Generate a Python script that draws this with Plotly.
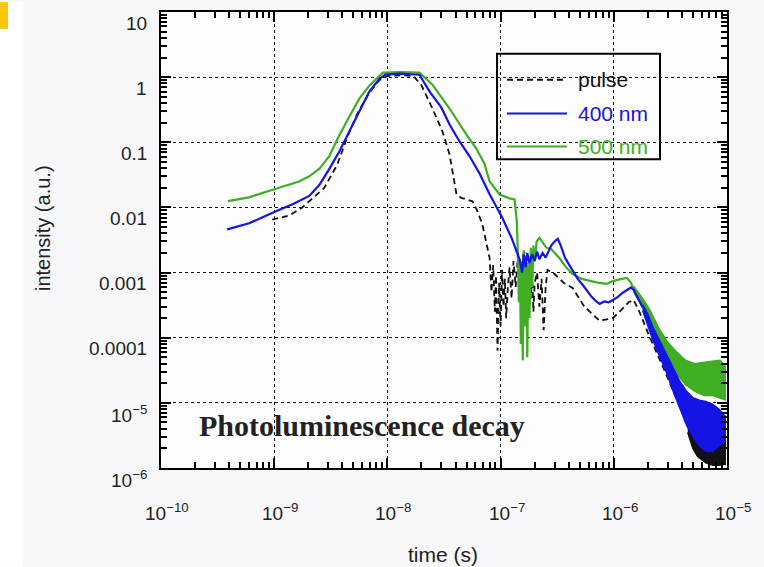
import math
import plotly.graph_objects as go

# ---- measured decay curves: time (s) and intensity (a.u.) ----
pulse_t = [9.6e-10, 1.36e-9, 1.77e-9, 2.77e-9, 3.6e-9, 4.5e-9, 5.5e-9, 6.9e-9, 8.5e-9,
           1.0e-8, 1.3e-8, 1.6e-8, 1.73e-8, 2.0e-8, 2.5e-8, 3.07e-8, 3.54e-8, 4.08e-8,
           4.5e-8, 5.65e-8, 6.2e-8, 6.9e-8, 8.0e-8, 8.3e-8, 8.6e-8, 8.9e-8, 9.1e-8,
           9.4e-8, 9.7e-8, 1.0e-7, 1.03e-7, 1.06e-7, 1.09e-7, 1.12e-7, 1.16e-7, 1.2e-7,
           1.25e-7, 1.3e-7, 1.36e-7, 1.42e-7, 1.5e-7, 1.6e-7, 1.7e-7, 1.78e-7, 1.85e-7,
           1.9e-7, 1.95e-7, 2.0e-7, 2.1e-7, 2.2e-7, 2.3e-7, 2.4e-7, 2.5e-7, 2.6e-7,
           3.0e-7, 3.6e-7, 4.33e-7, 5.5e-7, 7.5e-7, 9.8e-7, 1.15e-6, 1.35e-6, 1.5e-6,
           1.7e-6, 2.0e-6, 2.5e-6, 3.0e-6, 3.8e-6, 4.5e-6]
pulse_i = [6.5e-3, 7.5e-3, 1.0e-2, 2.0e-2, 4.5e-2, 0.13, 0.29, 0.57, 0.9,
           1.04, 1.07, 1.05, 1.0, 0.75, 0.33, 0.146, 0.065, 0.0158,
           0.014, 0.0124, 9.0e-3, 5.5e-3, 1.67e-3, 5.0e-4, 1.3e-3, 2.5e-4, 9.0e-4,
           6.3e-5, 7.0e-4, 1.5e-4, 1.1e-3, 3.0e-4, 8.0e-4, 2.0e-4, 6.0e-4, 1.2e-3,
           4.0e-4, 1.5e-3, 6.0e-4, 1.8e-3, 9.0e-4, 2.0e-3, 2.1e-3, 1.2e-3, 4.0e-4,
           1.0e-3, 2.5e-4, 7.0e-4, 1.0e-3, 3.0e-4, 8.0e-4, 1.3e-4, 6.0e-4, 1.1e-3,
           9.5e-4, 7.0e-4, 5.8e-4, 3.0e-4, 1.82e-4, 2.0e-4, 2.6e-4, 3.5e-4, 3.8e-4,
           2.4e-4, 1.2e-4, 5.0e-5, 2.4e-5, 9.0e-6, 4.5e-6]
# noisy tail of the pulse: lower / upper envelope
pulse_tail_t = [4.5e-6, 5.0e-6, 5.5e-6, 6.5e-6, 7.5e-6, 8.5e-6, 9.8e-6]
pulse_tail_lo = [3.5e-6, 2.0e-6, 1.5e-6, 1.2e-6, 1.1e-6, 1.1e-6, 1.15e-6]
pulse_tail_hi = [5.5e-6, 4.5e-6, 4.0e-6, 3.2e-6, 3.0e-6, 3.0e-6, 2.6e-6]

nm400_t = [3.84e-10, 6.0e-10, 1.0e-9, 1.5e-9, 2.04e-9, 2.5e-9, 3.07e-9, 3.76e-9, 5.1e-9,
           6.93e-9, 8.5e-9, 9.6e-9, 1.28e-8, 1.92e-8, 2.36e-8, 3.0e-8, 3.54e-8, 4.34e-8,
           5.32e-8, 6.52e-8, 8.0e-8, 1.04e-7, 1.25e-7, 1.47e-7, 1.55e-7, 1.6e-7, 1.66e-7,
           1.72e-7, 1.8e-7, 1.9e-7, 2.0e-7, 2.1e-7, 2.2e-7, 2.35e-7, 2.5e-7, 2.65e-7,
           2.8e-7, 3.0e-7, 3.2e-7, 3.4e-7, 3.7e-7, 4.0e-7, 4.33e-7, 4.8e-7, 5.3e-7,
           5.8e-7, 6.4e-7, 7.0e-7, 7.5e-7, 8.2e-7, 9.0e-7, 9.8e-7, 1.08e-6, 1.2e-6,
           1.3e-6, 1.42e-6, 1.5e-6, 1.65e-6, 1.8e-6]
nm400_i = [4.6e-3, 5.7e-3, 8.5e-3, 1.15e-2, 1.5e-2, 2.2e-2, 3.9e-2, 7.2e-2, 0.208,
           0.60, 0.946, 1.09, 1.13, 1.09, 0.60, 0.34, 0.187, 0.103,
           0.061, 0.0333, 0.0159, 6.8e-3, 3.4e-3, 1.6e-3, 1.0e-3, 1.9e-3, 1.2e-3,
           2.0e-3, 1.4e-3, 1.9e-3, 1.5e-3, 2.1e-3, 1.6e-3, 2.0e-3, 1.7e-3, 2.1e-3,
           2.6e-3, 3.0e-3, 3.3e-3, 2.6e-3, 1.7e-3, 1.35e-3, 1.06e-3, 8.0e-4, 6.5e-4,
           5.2e-4, 4.2e-4, 3.6e-4, 3.3e-4, 3.6e-4, 3.5e-4, 3.8e-4, 4.2e-4, 4.9e-4,
           5.3e-4, 5.9e-4, 5.4e-4, 3.8e-4, 2.9e-4]
nm400_tail_t = [1.8e-6, 2.0e-6, 2.2e-6, 2.5e-6, 2.9e-6, 3.3e-6, 3.8e-6, 4.4e-6, 5.0e-6,
                5.7e-6, 6.5e-6, 7.5e-6, 8.5e-6, 9.8e-6]
nm400_tail_lo = [2.6e-4, 1.5e-4, 9.5e-5, 5.5e-5, 3.0e-5, 1.6e-5, 8.5e-6, 4.5e-6, 3.0e-6,
                 2.2e-6, 1.8e-6, 1.8e-6, 2.2e-6, 2.6e-6]
nm400_tail_hi = [3.2e-4, 2.3e-4, 1.5e-4, 9.5e-5, 5.5e-5, 3.5e-5, 2.2e-5, 1.5e-5, 1.2e-5,
                 1.1e-5, 1.05e-5, 9.5e-6, 8.0e-6, 6.0e-6]

nm500_t = [3.9e-10, 6.0e-10, 1.0e-9, 1.66e-9, 2.04e-9, 2.5e-9, 3.07e-9, 3.6e-9, 4.5e-9,
           5.65e-9, 6.93e-9, 8.0e-9, 9.1e-9, 1.28e-8, 1.92e-8, 2.5e-8, 3.54e-8, 5.0e-8,
           6.1e-8, 7.2e-8, 8.0e-8, 9.8e-8, 1.2e-7, 1.33e-7, 1.39e-7, 1.42e-7, 1.45e-7,
           1.48e-7, 1.51e-7, 1.54e-7, 1.57e-7, 1.6e-7, 1.64e-7, 1.68e-7, 1.72e-7, 1.76e-7,
           1.8e-7, 1.85e-7, 1.9e-7, 1.95e-7, 2.0e-7, 2.08e-7, 2.2e-7, 2.35e-7, 2.55e-7,
           2.8e-7, 3.0e-7, 3.3e-7, 3.8e-7, 4.33e-7, 5.2e-7, 6.1e-7, 7.2e-7, 8.7e-7,
           9.8e-7, 1.1e-6, 1.3e-6, 1.4e-6, 1.5e-6]
nm500_i = [1.25e-2, 1.43e-2, 1.9e-2, 2.5e-2, 3.0e-2, 3.9e-2, 6.1e-2, 0.11, 0.23,
           0.468, 0.74, 0.946, 1.17, 1.2, 1.17, 0.766, 0.33, 0.131,
           0.08, 0.047, 0.025, 0.0158, 0.0138, 0.0133, 6.2e-3, 2.0e-3, 3.5e-4,
           1.6e-3, 8.0e-5, 1.2e-3, 4.5e-5, 2.2e-3, 1.5e-4, 1.8e-3, 5.0e-5, 1.4e-3,
           2.0e-4, 2.4e-3, 6.0e-4, 2.6e-3, 1.5e-3, 3.0e-3, 3.4e-3, 2.9e-3, 2.4e-3,
           2.3e-3, 2.0e-3, 1.67e-3, 1.2e-3, 9.5e-4, 8.0e-4, 7.4e-4, 7.0e-4, 6.7e-4,
           7.4e-4, 7.8e-4, 8.3e-4, 7.2e-4, 5.6e-4]
nm500_tail_t = [1.5e-6, 1.8e-6, 2.1e-6, 2.5e-6, 3.0e-6, 3.6e-6, 4.3e-6, 5.2e-6, 6.3e-6,
                7.5e-6, 8.7e-6, 9.8e-6]
nm500_tail_lo = [5.0e-4, 2.9e-4, 1.6e-4, 8.5e-5, 4.5e-5, 2.8e-5, 1.9e-5, 1.5e-5, 1.3e-5,
                 1.3e-5, 1.2e-5, 1.1e-5]
nm500_tail_hi = [6.2e-4, 4.0e-4, 2.6e-4, 1.4e-4, 8.5e-5, 6.0e-5, 4.5e-5, 4.0e-5, 4.2e-5,
                 4.4e-5, 4.5e-5, 3.5e-5]

# ---- axis ticks ----
x_tickvals = [1e-10, 1e-9, 1e-8, 1e-7, 1e-6, 1e-5]
x_ticktext = ["10<sup>\u221210</sup>", "10<sup>\u22129</sup>", "10<sup>\u22128</sup>",
              "10<sup>\u22127</sup>", "10<sup>\u22126</sup>", "10<sup>\u22125</sup>"]
y_tickvals = [1e-6, 1e-5, 1e-4, 1e-3, 1e-2, 1e-1, 1, 10]
y_ticktext = ["10<sup>\u22126</sup>", "10<sup>\u22125</sup>", "0.0001", "0.001",
              "0.01", "0.1", "1", "10"]
x_minor = [m * 10.0 ** e for e in range(-10, -5) for m in range(2, 10)]
y_minor = [m * 10.0 ** e for e in range(-6, 1) for m in range(2, 10)]

series_names = ["pulse", "400 nm", "500 nm"]
series_colors = ["#111111", "#1414e6", "#3fae22"]

W, H = 764, 567
PL, PR, PT, PB = 161, 727, 10, 468   # plot-area edges in pixels
X_RANGE, Y_RANGE = [-10, -5], [-6, 1]


def xp(px):
    return (px - PL) / (PR - PL)


def yp(py):
    return (PB - py) / (PB - PT)


SANS = "Liberation Sans, Arial, Helvetica, sans-serif"
SERIF = "Liberation Serif, Times New Roman, serif"
TICK_FONT = dict(family=SANS, size=19, color="#222222")

fig = go.Figure()


def add_series(t, i, tail_t, tail_lo, tail_hi, name, color, dash, width):
    fig.add_trace(go.Scatter(x=t, y=i, mode="lines", name=name, showlegend=False,
                             line=dict(color=color, width=width, dash=dash)))
    fig.add_trace(go.Scatter(x=tail_t, y=tail_lo, mode="lines", name=name,
                             showlegend=False, hoverinfo="skip",
                             line=dict(color=color, width=1.5)))
    fig.add_trace(go.Scatter(x=tail_t, y=tail_hi, mode="lines", name=name,
                             showlegend=False, hoverinfo="skip", fill="tonexty",
                             fillcolor=color, line=dict(color=color, width=1.5)))


add_series(pulse_t, pulse_i, pulse_tail_t, pulse_tail_lo, pulse_tail_hi,
           series_names[0], series_colors[0], "6px,4px", 1.8)
add_series(nm500_t, nm500_i, nm500_tail_t, nm500_tail_lo, nm500_tail_hi,
           series_names[2], series_colors[2], "solid", 2.2)
add_series(nm400_t, nm400_i, nm400_tail_t, nm400_tail_lo, nm400_tail_hi,
           series_names[1], series_colors[1], "solid", 2.2)

# empty traces binding the tick-only axes (bottom/left and top/right)
fig.add_trace(go.Scatter(x=[], y=[], xaxis="x2", yaxis="y2", mode="lines",
                         showlegend=False, hoverinfo="skip"))
fig.add_trace(go.Scatter(x=[], y=[], xaxis="x3", yaxis="y3", mode="lines",
                         showlegend=False, hoverinfo="skip"))

# main axes: frame and dotted decade grid
axis_common = dict(
    type="log", showline=True, linewidth=2, linecolor="black", mirror=True,
    ticks="", showticklabels=False, showgrid=True, gridcolor="#111111",
    griddash="dot", gridwidth=1.3, zeroline=False,
)
# tick-only axes: long decade ticks plus short ticks at 2..9 of each decade
tick_axis = dict(
    type="log", tickmode="array", ticks="inside", ticklen=10, tickwidth=2,
    tickcolor="black", showticklabels=False, showgrid=False, zeroline=False,
)
minor_ticks = dict(ticks="inside", ticklen=6, tickwidth=1.5, tickcolor="black",
                   tickmode="array")

fig.update_layout(
    width=W, height=H, autosize=False,
    margin=dict(l=PL, r=W - PR, t=PT, b=H - PB),
    paper_bgcolor="#f8f8fa", plot_bgcolor="#fdfdfd",
    showlegend=False,
    xaxis=dict(axis_common, range=X_RANGE, tickvals=x_tickvals),
    yaxis=dict(axis_common, range=Y_RANGE, tickvals=y_tickvals),
    xaxis2=dict(tick_axis, overlaying="x", anchor="y2", side="bottom", range=X_RANGE,
                tickvals=x_tickvals, minor=dict(minor_ticks, tickvals=x_minor)),
    yaxis2=dict(tick_axis, overlaying="y", anchor="x2", side="left", range=Y_RANGE,
                tickvals=y_tickvals, minor=dict(minor_ticks, tickvals=y_minor)),
    xaxis3=dict(tick_axis, overlaying="x", anchor="y3", side="top", range=X_RANGE,
                tickvals=x_tickvals, minor=dict(minor_ticks, tickvals=x_minor)),
    yaxis3=dict(tick_axis, overlaying="y", anchor="x3", side="right", range=Y_RANGE,
                tickvals=y_tickvals, minor=dict(minor_ticks, tickvals=y_minor)),
)

# tick labels, placed on the axis scale (log axes take log10 positions)
for v, txt in zip(x_tickvals, x_ticktext):
    fig.add_annotation(x=math.log10(v), y=Y_RANGE[0], xref="x", yref="y", text=txt,
                       xanchor="center", yanchor="middle", xshift=6, yshift=-44,
                       showarrow=False, font=TICK_FONT)
for v, txt in zip(y_tickvals, y_ticktext):
    fig.add_annotation(x=X_RANGE[0], y=math.log10(v), xref="x", yref="y", text=txt,
                       xanchor="right", yanchor="middle", xshift=-12, yshift=-11,
                       showarrow=False, font=TICK_FONT)

# axis titles
fig.add_annotation(x=xp(443), y=yp(555), xref="paper", yref="paper", text="time (s)",
                   xanchor="center", yanchor="middle", showarrow=False,
                   font=dict(family=SANS, size=21, color="#222222"))
fig.add_annotation(x=xp(43), y=yp(227), xref="paper", yref="paper",
                   text="intensity (a.u.)", textangle=-90, showarrow=False,
                   xanchor="center", yanchor="middle",
                   font=dict(family=SANS, size=20, color="#222222"))

# in-plot caption
fig.add_annotation(x=xp(362), y=yp(425), xref="paper", yref="paper",
                   text="<b>Photoluminescence decay</b>", showarrow=False,
                   xanchor="center", yanchor="middle",
                   font=dict(family=SERIF, size=30, color="#222222"))

# legend box
shapes = [dict(type="rect", xref="paper", yref="paper", x0=xp(497), x1=xp(660),
               y0=yp(158), y1=yp(52), line=dict(color="black", width=2),
               fillcolor="rgba(0,0,0,0)")]
legend_rows = [78, 112, 145]
legend_dash = ["6px,4px", "solid", "solid"]
for name, color, row, dash in zip(series_names, series_colors, legend_rows, legend_dash):
    shapes.append(dict(type="line", xref="paper", yref="paper", x0=xp(507), x1=xp(567),
                       y0=yp(row), y1=yp(row), line=dict(color=color, width=2, dash=dash)))
    fig.add_annotation(x=xp(576), y=yp(row), xref="paper", yref="paper", text=name,
                       xanchor="left", yanchor="middle", showarrow=False,
                       font=dict(family=SANS, size=21, color=color))

# page decorations outside the axes
shapes.append(dict(type="rect", xref="paper", yref="paper", x0=xp(0), x1=xp(23),
                   y0=yp(H), y1=yp(0), line=dict(width=0), fillcolor="#ffffff"))
shapes.append(dict(type="rect", xref="paper", yref="paper", x0=xp(0), x1=xp(8),
                   y0=yp(27), y1=yp(0), line=dict(width=0), fillcolor="#f7c600"))
fig.update_layout(shapes=shapes)

fig.write_html("out.html")
